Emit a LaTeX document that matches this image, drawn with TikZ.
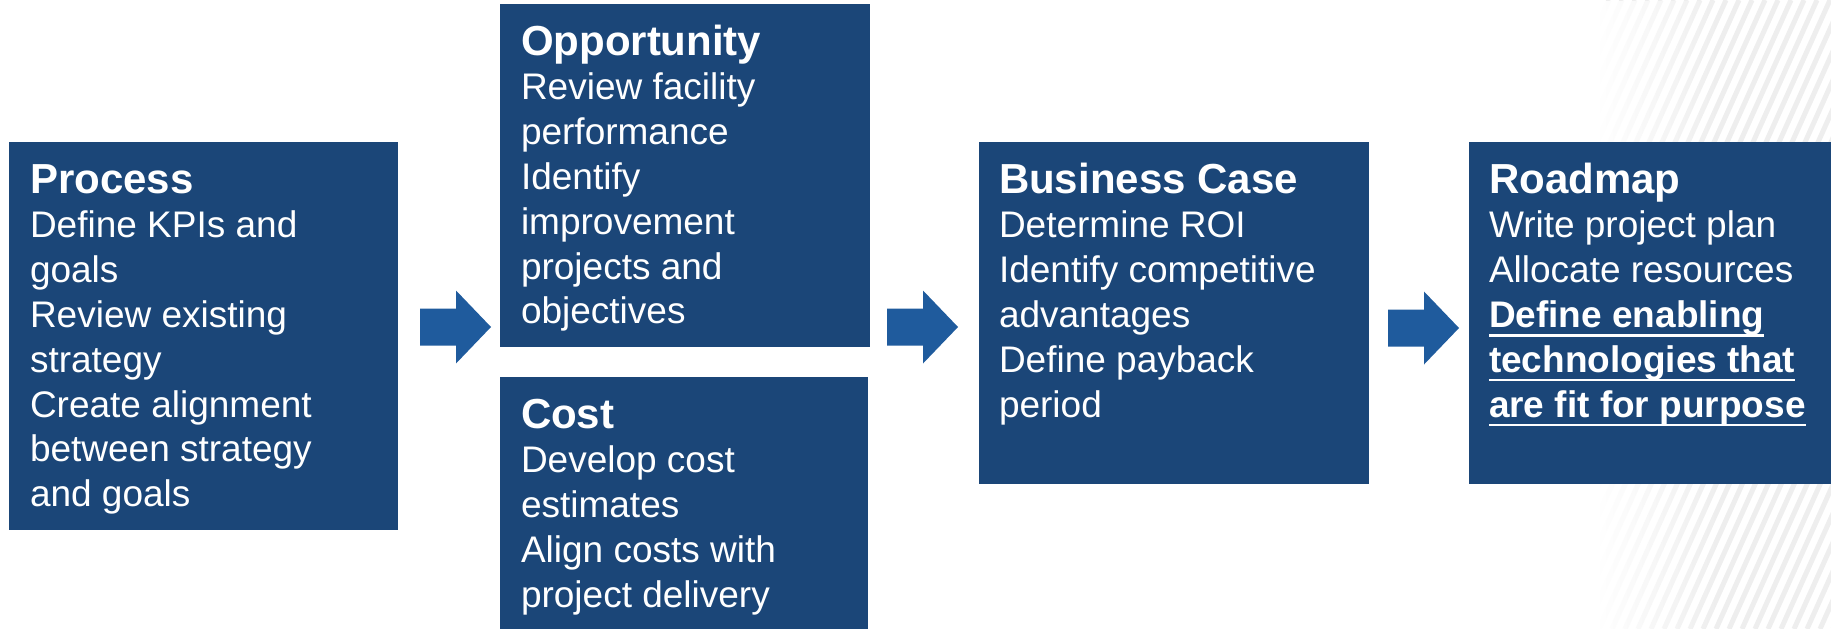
\documentclass[tikz,border=0pt]{standalone}
\usepackage{fontspec}
\setmainfont{Liberation Sans}
\usetikzlibrary{calc,fadings}
\definecolor{boxblue}{HTML}{1B4678}
\definecolor{arrowblue}{HTML}{1F5B9D}
\definecolor{stripegray}{HTML}{EEEEEE}
\tikzfading[name=whiteout, left color=transparent!0, right color=transparent!100]
\newsavebox\ulsave
\newcommand\ulline[1]{\sbox\ulsave{#1}\rlap{\rule[-9.2pt]{\wd\ulsave}{2.6pt}}\usebox\ulsave}
\newcommand\ttl[1]{\rule{0pt}{34pt}{\fontsize{42}{44.8}\selectfont\bfseries #1}}
\tikzset{
  box/.style={fill=boxblue, draw=none, inner sep=0pt, outer sep=0pt, anchor=north west},
  boxtext/.style={text=white, align=left, inner sep=0pt, outer sep=0pt, anchor=north west,
    font=\fontsize{37}{44.8}\selectfont},
  barrow/.pic={\fill[arrowblue] (0,-18.5) -- (36,-18.5) -- (36,-36.5) -- (71,0) -- (36,36.5) -- (36,18.5) -- (0,18.5) -- cycle;}
}
\begin{document}
\begin{tikzpicture}[x=1pt,y=-1pt]
\useasboundingbox (0,0) rectangle (1831,629);
% striped background on the right
\begin{scope}
  \clip (1600,0) rectangle (1831,629);
  \foreach \s in {1300,1313,...,2100} \draw[stripegray, line width=5pt] (\s,629) -- (\s+283,0);
  \fill[white, path fading=whiteout] (1598,0) rectangle (1720,629);
\end{scope}
% boxes
\node[box, minimum width=389, minimum height=388] (proc) at (9,142) {};
\node[box, minimum width=370, minimum height=343] (opp) at (500,4) {};
\node[box, minimum width=368, minimum height=252] (cost) at (500,377) {};
\node[box, minimum width=390, minimum height=342] (bcase) at (979,142) {};
\node[box, minimum width=362, minimum height=342] (road) at (1469,142) {};
% texts
\node[boxtext] (proct) at ($(proc.north west)+(21,17)$)
  {\ttl{Process}\\Define KPIs and\\goals\\Review existing\\strategy\\Create alignment\\between strategy\\and goals};
\node[boxtext] (oppt) at ($(opp.north west)+(21,17)$)
  {\ttl{Opportunity}\\Review facility\\performance\\Identify\\improvement\\projects and\\objectives};
\node[boxtext] (costt) at ($(cost.north west)+(21,17)$)
  {\ttl{Cost}\\Develop cost\\estimates\\Align costs with\\project delivery};
\node[boxtext] (bcaset) at ($(bcase.north west)+(20,17)$)
  {\ttl{Business Case}\\Determine ROI\\Identify competitive\\advantages\\Define payback\\period};
\node[boxtext] (roadt) at ($(road.north west)+(20,17)$)
  {\ttl{Roadmap}\\Write project plan\\Allocate resources\\\ulline{\bfseries Define enabling}\\\ulline{\bfseries technologies that}\\\ulline{\bfseries are fit for purpose}};
% block arrows
\coordinate (a1) at ($(proc.north east)+(22,185)$);
\coordinate (a2) at ($(bcase.north west)+(-92,185)$);
\coordinate (a3) at ($(road.north west)+(-81,186)$);
\pic at (a1) {barrow};
\pic at (a2) {barrow};
\pic at (a3) {barrow};
\end{tikzpicture}
\end{document}
